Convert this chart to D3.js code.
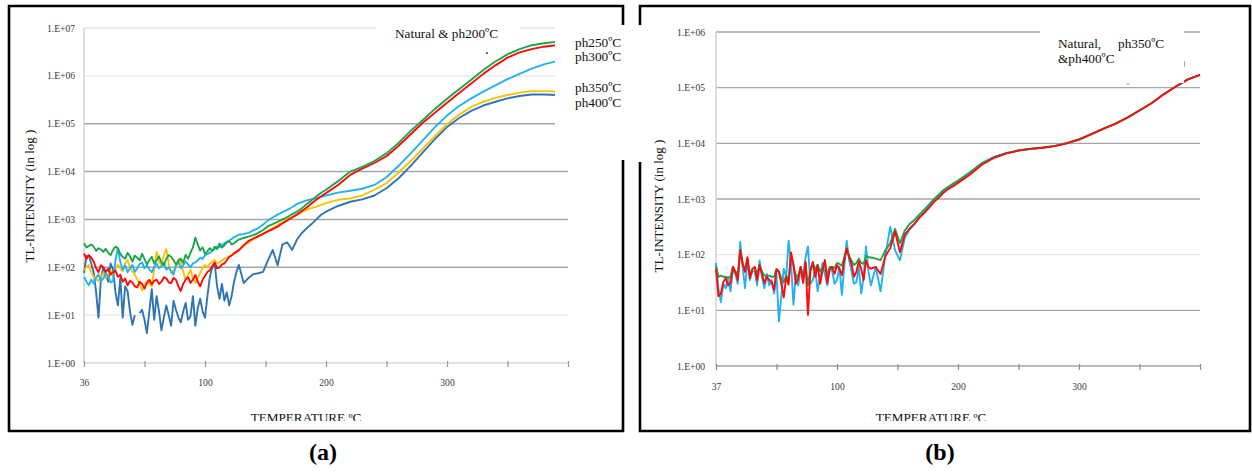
<!DOCTYPE html>
<html>
<head>
<meta charset="utf-8">
<script src="https://cdn.jsdelivr.net/npm/d3@7"></script>
<style>
  body { margin: 0; background: #fff; }
  svg { display: block; font-family: "Liberation Serif", "Times New Roman", serif; }
</style>
</head>
<body>
<div id="figure"></div>
<script>
//#region Data (channel index along the glow curve, TL intensity)
const channels = [
  0, 2, 4, 6, 8, 10, 12, 14, 16, 18,
  20, 22, 24, 26, 28, 30, 32, 34, 36, 38,
  40, 42, 44, 46, 48, 50, 52, 54, 56, 58,
  60, 62, 64, 66, 68, 70, 72, 74, 76, 78,
  80, 82, 84, 86, 88, 90, 92, 94, 96, 98,
  100, 102, 104, 106, 108, 110, 112, 114, 116, 118,
  120, 122, 124, 126, 128,
  132, 136, 140, 144, 148, 152, 156, 160, 164, 168, 172, 176, 180, 184, 188, 192, 196, 200,
  210, 220, 230, 240, 250, 260, 270, 280, 290, 300, 310, 320, 330, 340, 350, 360,
  370, 380, 390, 400
];
const tickChannels = [0, 50, 100, 150, 200, 250, 300, 350, 400];
const labelChannels = [0, 100, 200, 300];
const tempLabelsA = ["36", "100", "200", "300"];
const tempLabelsB = ["37", "100", "200", "300"];
const decadesA = [1, 1e1, 1e2, 1e3, 1e4, 1e5, 1e6, 1e7];
const decadesB = [1, 1e1, 1e2, 1e3, 1e4, 1e5, 1e6];

// panel (a)
const greenA = [
  320, 260, 280, 300, 270, 220, 250, 235, 210, 245,
  200, 180, 230, 270, 250, 190, 165, 150, 200, 170,
  132, 175, 158, 140, 191, 150, 115, 140, 166, 120,
  141, 170, 126, 110, 151, 180, 166, 140, 115, 135,
  151, 125, 182, 150, 200, 260, 417, 300, 224, 260,
  191, 215, 251, 220, 269, 240, 316, 260, 288, 330,
  355, 300, 316, 350, 380,
  410, 437, 470, 525, 600, 724, 800, 891, 1000, 1120, 1280, 1450, 1700, 2090, 2500, 3020, 3600, 4170,
  6310, 1.0e4, 1.26e4, 1.66e4, 2.4e4, 3.98e4, 7.08e4, 1.2e5, 2.04e5, 3.31e5, 5.25e5, 8.32e5, 1.32e6, 2.0e6, 2.82e6, 3.63e6, 4.37e6, 4.79e6, 5.13e6, 5.25e6];
const redA = [
  195, 150, 178, 160, 132, 95, 79, 110, 100, 80,
  93, 70, 79, 85, 63, 70, 50, 58, 42, 52,
  48, 40, 38, 50, 45, 36, 47, 55, 44, 52,
  55, 45, 50, 62, 59, 48, 47, 60, 55, 40,
  32, 45, 55, 62, 47, 55, 69, 50, 40, 55,
  66, 80, 87, 105, 126, 95, 100, 115, 120, 140,
  166, 175, 195, 210, 229,
  290, 355, 400, 447, 500, 562, 630, 708, 820, 955, 1100, 1260, 1500, 1780, 2150, 2570, 3050, 3550,
  5250, 8510, 1.15e4, 1.51e4, 2.09e4, 3.47e4, 6.03e4, 1.05e5, 1.7e5, 2.75e5, 4.37e5, 6.92e5, 1.1e6, 1.66e6, 2.4e6, 3.09e6, 3.63e6, 4.07e6, 4.37e6, 4.57e6];
const lightBlueA = [
  63, 50, 42, 55, 46, 60, 71, 52, 58, 75,
  63, 48, 52, 140, 251, 130, 89, 110, 79, 95,
  112, 80, 95, 118, 126, 95, 112, 90, 79, 100,
  120, 95, 105, 125, 89, 100, 83, 70, 112, 130,
  95, 110, 132, 115, 100, 120, 126, 140, 158, 150,
  178, 190, 200, 220, 240, 270, 263, 290, 316, 340,
  363, 390, 427, 450, 479,
  500, 525, 590, 661, 780, 955, 1100, 1260, 1420, 1580, 1800, 2090, 2300, 2510, 2650, 2750, 2950, 3160,
  3630, 3980, 4370, 5250, 7590, 1.32e4, 2.4e4, 4.47e4, 8.51e4, 1.48e5, 2.34e5, 3.39e5, 4.68e5, 6.31e5, 8.51e5, 1.1e6, 1.41e6, 1.74e6, 2.0e6, 2.14e6];
const yellowA = [
  87, 100, 112, 80, 63, 55, 52, 65, 76, 60,
  71, 85, 63, 90, 115, 95, 83, 120, 141, 100,
  83, 70, 56, 45, 33, 42, 52, 45, 40, 90,
  209, 130, 112, 180, 240, 120, 76, 85, 95, 150,
  132, 80, 55, 70, 89, 60, 47, 60, 76, 95,
  112, 100, 120, 130, 141, 120, 126, 140, 151, 158,
  166, 180, 195, 210, 224,
  280, 331, 380, 437, 500, 575, 660, 759, 870, 1000, 1120, 1260, 1420, 1580, 1720, 1860, 2020, 2190,
  2570, 2750, 3160, 4170, 5750, 9550, 1.66e4, 3.02e4, 5.5e4, 9.77e4, 1.55e5, 2.24e5, 2.88e5, 3.47e5, 3.98e5, 4.47e5, 4.79e5, 4.79e5, 4.68e5, 4.57e5];
const darkBlueA = [
  76, 170, 178, 120, 79, 30, 8.9, 60, 100, 70,
  50, 120, 89, 30, 16, 60, 8.9, 40, 32, 12,
  6.3, 10, null, 11, 13, 8, 4.2, 12, 35, 8,
  25, 12, 4.8, 9, 16, 10, 6.0, 20, 13, 9,
  7.1, 12, 18, 8, 9.5, 25, 6.0, 14, 22, 12,
  8.9, 25, 63, 100, 120, 40, 22, 45, 20, 30,
  16, 25, 50, 80, 112,
  47, 60, 72, 75, 80, 140, 230, 110, 300, 330, 230, 380, 520, 650, 800, 1000, 1250, 1450,
  1910, 2340, 2630, 3160, 4470, 7240, 1.32e4, 2.51e4, 4.79e4, 8.51e4, 1.32e5, 1.86e5, 2.4e5, 2.88e5, 3.39e5, 3.8e5, 4.07e5, 4.07e5, 3.98e5, 3.89e5];

// panel (b)
const redB = [
  56, 18, 20, 32, 38, 28, 31, 60, 49, 35,
  120, 70, 49, 90, 38, 55, 60, 35, 65, 45,
  31, 40, 35, 32, 23, 55, 49, 30, 17, 40,
  29, 110, 65, 30, 38, 60, 31, 75, 8.3, 50,
  74, 40, 65, 30, 50, 80, 31, 55, 60, 45,
  65, 55, 43, 80, 129, 90, 69, 40, 49, 75,
  56, 35, 79, 60, 56,
  60, 45, 95, 130, 260, 110, 230, 295, 360, 457, 560, 692, 880, 1050, 1300, 1510, 1700, 1950,
  2750, 4170, 5500, 6610, 7410, 7940, 8320, 8910, 1.0e4, 1.17e4, 1.45e4, 1.82e4, 2.24e4, 2.88e4, 3.89e4, 5.25e4, 7.59e4, 1.05e5, 1.41e5, 1.7e5];
const greenB = [
  63, 40, 42, 40, 40, 38, 40, 60, 50, 45,
  112, 70, 52, 85, 42, 55, 60, 45, 66, 50,
  42, 42, 42, 40, 40, 55, 50, 38, 32, 42,
  35, 100, 66, 40, 42, 60, 35, 70, 28, 55,
  71, 55, 66, 50, 56, 75, 42, 60, 60, 58,
  71, 68, 63, 90, 126, 95, 79, 65, 71, 85,
  71, 68, 95, 90, 89,
  85, 80, 120, 160, 290, 160, 270, 355, 420, 525, 640, 794, 990, 1200, 1450, 1660, 1900, 2140,
  3020, 4370, 5620, 6610, 7500, 8000, 8400, 9000, 1.02e4, 1.19e4, 1.47e4, 1.84e4, 2.27e4, 2.92e4, 3.92e4, 5.3e4, 7.6e4, 1.05e5, 1.41e5, 1.7e5];
const lightBlueB = [
  71, 25, 14, 30, 25, 40, 22, 55, 45, 30,
  170, 60, 25, 80, 35, 50, 50, 28, 79, 40,
  25, 45, 28, 35, 20, 45, 6.3, 18, 56, 40,
  178, 70, 12.6, 45, 28, 60, 40, 90, 141, 30,
  35, 55, 22, 40, 71, 45, 28, 60, 50, 30,
  35, 60, 19, 60, 178, 80, 50, 30, 32, 60,
  20, 40, 141, 50, 28,
  60, 22, 100, 316, 120, 79, 200, 282, 350, 479, 560, 759, 920, 1120, 1350, 1580, 1800, 2090,
  3020, 4470, 5750, 6700, 7400, 7900, 8300, 8900, 1.0e4, 1.17e4, 1.45e4, 1.82e4, 2.24e4, 2.88e4, 3.89e4, 5.25e4, 7.59e4, 1.05e5, 1.41e5, 1.7e5];

const legendA = ["Natural & ph200ºC", "ph250ºC", "ph300ºC", "ph350ºC", "ph400ºC"];
const legendB = ["Natural,", "ph350ºC", "&ph400ºC"];
//#endregion

//#region Panel layout (positions and styles only)
const colors = { green: "#1ba64c", red: "#ff0a0a", lightBlue: "#22b2ee", yellow: "#ffc000", darkBlue: "#2e75b6" };

const panels = [
  {
    id: "a",
    frame: "M623,25 V6 H9 V431 H623 V160",
    plot: { left: 84, right: 568, top: 28, bottom: 363 },
    decades: decadesA,
    gridShades: ["#d9d9d9", "#e6e6e6", "#a6a6a6", "#a6a6a6", "#a6a6a6", "#a6a6a6", "#e8e8e8", "#e3e3e3"],
    tickColor: "#999",
    tempLabels: tempLabelsA,
    labelPad: 12,
    yTitle: { x: 34, y: 196 },
    xTitle: { x: 306 },
    series: [
      { values: darkBlueA, color: colors.darkBlue },
      { values: yellowA, color: colors.yellow },
      { values: lightBlueA, color: colors.lightBlue },
      { values: redA, color: colors.red },
      { values: greenA, color: colors.green }
    ],
    whiteBoxes: [[376, 21, 144, 27], [555, 24, 72, 136]],
    caption: { x: 323, text: "(a)" }
  },
  {
    id: "b",
    frame: "M640,25 V6 H1250 V431 H640 V162",
    plot: { left: 716, right: 1200, top: 32, bottom: 366 },
    decades: decadesB,
    gridShades: ["#a6a6a6", "#a6a6a6", "#e6e6e6", "#a6a6a6", "#a6a6a6", "#a6a6a6", "#a6a6a6"],
    tickColor: "#8c8c8c",
    tempLabels: tempLabelsB,
    labelPad: 13,
    yTitle: { x: 663, y: 206 },
    xTitle: { x: 931 },
    series: [
      { values: lightBlueB, color: colors.lightBlue },
      { values: greenB, color: colors.green },
      { values: redB, color: colors.red }
    ],
    whiteBoxes: [[1040, 21, 144, 62]],
    caption: { x: 940, text: "(b)" }
  }
];
//#endregion

const svg = d3.select("#figure").append("svg")
  .attr("width", 1252)
  .attr("height", 476);

function makeGlowPanel(p) {
  const g = svg.append("g").attr("id", `panel-${p.id}`);
  const { left, right, top, bottom } = p.plot;

  //#region Scales
  const x = d3.scaleLinear().domain([0, 400]).range([left, right]);
  const y = d3.scaleLog().domain([1, d3.max(p.decades)]).range([bottom, top]);
  //#endregion

  //#region Gridlines and axis lines
  g.selectAll("line.grid")
    .data(p.decades)
    .enter()
    .append("line")
    .attr("class", "grid")
    .attr("x1", left)
    .attr("x2", right)
    .attr("y1", d => y(d))
    .attr("y2", d => y(d))
    .style("stroke", (d, i) => p.gridShades[i])
    .style("stroke-width", 1.4);

  g.append("line")
    .attr("x1", left).attr("x2", left)
    .attr("y1", top).attr("y2", bottom)
    .style("stroke", "#d0d0d0")
    .style("stroke-width", 1.4);

  const axisX = d3.axisBottom(x)
    .tickValues(tickChannels)
    .tickSize(6)
    .tickPadding(p.labelPad)
    .tickFormat(c => {
      const k = labelChannels.indexOf(c);
      return k < 0 ? "" : p.tempLabels[k];
    });
  const gx = g.append("g")
    .attr("transform", `translate(0,${bottom - 2})`)
    .call(axisX);
  gx.select(".domain").remove();
  gx.selectAll("line").style("stroke", p.tickColor).style("stroke-width", 1.2);
  gx.selectAll("text")
    .style("font-family", "Liberation Serif, serif")
    .style("font-size", "9.6px")
    .style("fill", "#3a3a3a");

  const axisY = d3.axisLeft(y)
    .tickValues(p.decades)
    .tickSize(0)
    .tickPadding(p.id === "a" ? 9 : 11)
    .tickFormat(d => "1.E+" + String(Math.round(Math.log10(d))).padStart(2, "0"));
  const gy = g.append("g")
    .attr("transform", `translate(${left},0)`)
    .call(axisY);
  gy.select(".domain").remove();
  gy.selectAll("text")
    .style("font-family", "Liberation Serif, serif")
    .style("font-size", "9.6px")
    .style("fill", "#3a3a3a");
  //#endregion

  //#region Glow curves
  const line = d3.line()
    .defined(d => d.v != null)
    .x(d => x(d.c))
    .y(d => y(d.v));

  p.series.forEach(s => {
    g.append("path")
      .datum(channels.map((c, i) => ({ c, v: s.values[i] })))
      .attr("d", line)
      .style("fill", "none")
      .style("stroke", s.color)
      .style("stroke-width", 1.9)
      .style("stroke-linejoin", "round");
  });
  //#endregion

  //#region Legend boxes cover plot edges
  p.whiteBoxes.forEach(b => {
    g.append("rect")
      .attr("x", b[0]).attr("y", b[1])
      .attr("width", b[2]).attr("height", b[3])
      .style("fill", "#fff");
  });
  //#endregion

  //#region Frame, titles, caption
  g.append("path")
    .attr("d", p.frame)
    .style("fill", "none")
    .style("stroke", "#000")
    .style("stroke-width", 2.6);

  g.append("text")
    .text("TL-INTENSITY (in log )")
    .attr("transform", `translate(${p.yTitle.x},${p.yTitle.y}) rotate(-90)`)
    .attr("text-anchor", "middle")
    .style("font-size", "13px")
    .style("fill", "#111");

  g.append("clipPath")
    .attr("id", `clip-title-${p.id}`)
    .append("rect")
    .attr("x", p.xTitle.x - 80).attr("y", 400)
    .attr("width", 160).attr("height", 21);

  g.append("text")
    .text("TEMPERATURE ºC")
    .attr("x", p.xTitle.x)
    .attr("y", 422)
    .attr("text-anchor", "middle")
    .attr("clip-path", `url(#clip-title-${p.id})`)
    .style("font-size", "13.2px")
    .style("fill", "#111");

  g.append("text")
    .text(p.caption.text)
    .attr("x", p.caption.x)
    .attr("y", 460)
    .attr("text-anchor", "middle")
    .style("font-size", "24px")
    .style("font-weight", "bold");
  //#endregion
}

panels.forEach(makeGlowPanel);

//#region Legend labels
const legendStyle = sel => sel.style("font-size", "13.3px").style("fill", "#111");

svg.append("text").text(legendA[0]).attr("x", 395).attr("y", 38).call(legendStyle);
svg.append("circle").attr("cx", 487).attr("cy", 53).attr("r", 0.9).style("fill", "#222");
[[legendA[1], 47], [legendA[2], 61], [legendA[3], 92], [legendA[4], 107]].forEach(([t, yy]) => {
  svg.append("text").text(t).attr("x", 575).attr("y", yy).call(legendStyle);
});

svg.append("text").text(legendB[0]).attr("x", 1058).attr("y", 48).call(legendStyle);
svg.append("text").text(legendB[1]).attr("x", 1118).attr("y", 48).call(legendStyle);
svg.append("text").text(legendB[2]).attr("x", 1058).attr("y", 63).call(legendStyle);
// stray marks left from the legend box border
svg.append("line").attr("x1", 1184.5).attr("x2", 1184.5).attr("y1", 61).attr("y2", 67)
  .style("stroke", "#7fb0e0").style("stroke-width", 1);
svg.append("line").attr("x1", 1126).attr("x2", 1130).attr("y1", 84).attr("y2", 84)
  .style("stroke", "#7fb0e0").style("stroke-width", 1);
//#endregion
</script>
</body>
</html>
